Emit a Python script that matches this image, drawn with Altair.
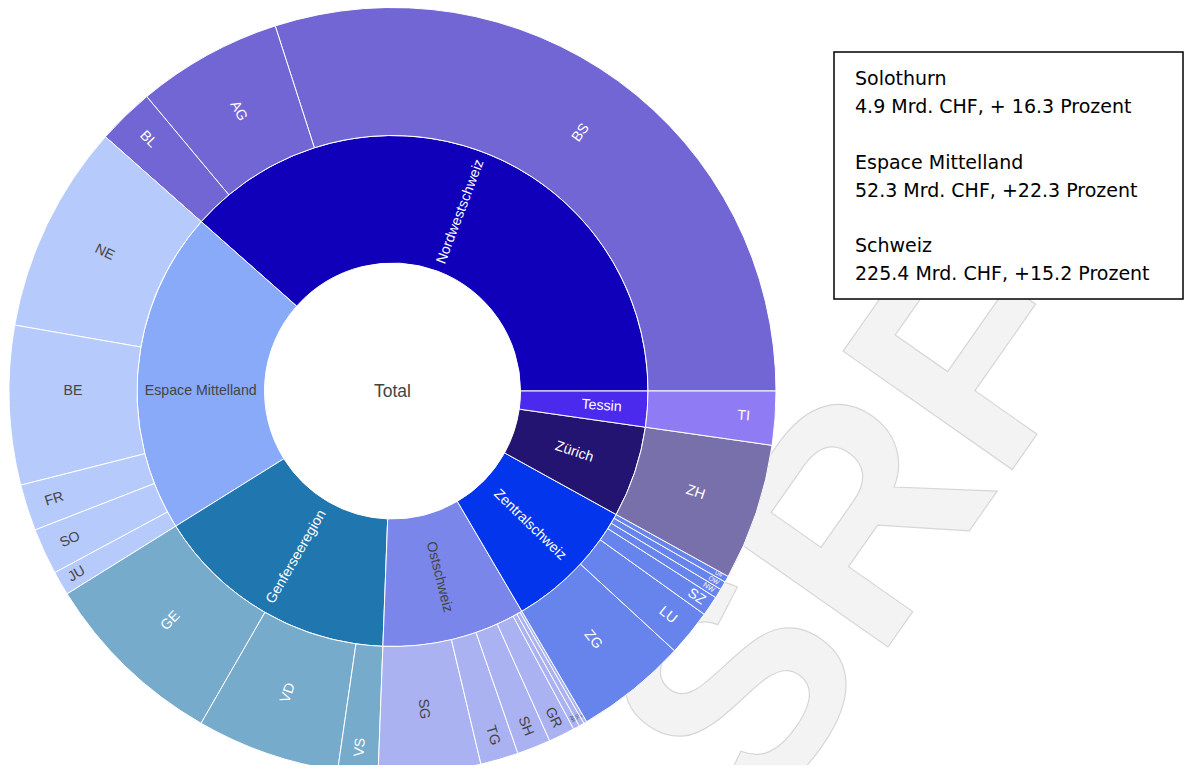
import math
import altair as alt
import pandas as pd

# ---------------- data ----------------
regions = ["Nordwestschweiz", "Espace Mittelland", "Genferseeregion", "Ostschweiz",
           "Zentralschweiz", "Zürich", "Tessin"]
cantons = ["BS", "AG", "BL",
           "NE", "BE", "FR", "SO", "JU",
           "GE", "VD", "VS",
           "SG", "TG", "SH", "GR", "AR", "GL", "AI",
           "ZG", "LU", "SZ", "NW", "OW", "UR",
           "ZH",
           "TI"]
canton_region = (["Nordwestschweiz"] * 3 + ["Espace Mittelland"] * 5 + ["Genferseeregion"] * 3
                 + ["Ostschweiz"] * 7 + ["Zentralschweiz"] * 6 + ["Zürich"] + ["Tessin"])
canton_values = [67.5, 13.8, 5.4,
                 19.8, 15.1, 4.4, 4.4, 2.3,
                 17.6, 13.6, 3.8,
                 9.7, 3.6, 3.2, 2.5, 0.6, 0.5, 0.3,
                 10.6, 4.4, 1.9, 0.9, 0.8, 0.6,
                 13.0,
                 5.1]
info_blocks = [["Solothurn", "4.9 Mrd. CHF, + 16.3 Prozent"],
               ["Espace Mittelland", "52.3 Mrd. CHF, +22.3 Prozent"],
               ["Schweiz", "225.4 Mrd. CHF, +15.2 Prozent"]]
watermark = "SRF"

# ---------------- styles ----------------
region_colors = ["#1000b9", "#89a9f9", "#2077b0", "#7a86e9", "#0336ec", "#221470", "#4b2aee"]
leaf_colors = ["#7265d4", "#b6cafc", "#77abcb", "#aab2f2", "#6684ec", "#7870ab", "#8f7bf4"]
dark_text = ["Espace Mittelland", "Ostschweiz", "NE", "BE", "FR", "SO", "JU",
             "SG", "TG", "SH", "GR", "AR", "GL", "AI"]
horizontal = ["Espace Mittelland", "BE"]

region_values = [sum(v for v, r in zip(canton_values, canton_region) if r == reg) for reg in regions]
total = float(sum(canton_values))

df_reg = pd.DataFrame({"name": regions, "value": region_values, "idx": range(len(regions))})
df_can = pd.DataFrame({"name": cantons, "value": canton_values, "idx": range(len(cantons)),
                       "region": canton_region})

color_domain = regions + cantons
color_range = region_colors + [leaf_colors[regions.index(r)] for r in canton_region]
color_scale = alt.Scale(domain=color_domain, range=color_range)

theta_scale = alt.Scale(domain=[0, total], range=[2.5 * math.pi, 0.5 * math.pi], nice=False, zero=True)

CX, CY = 384.5, 383
R0, R1, R2 = 128, 255.5, 383.5
FONT = "Liberation Sans"
MAXFS = 14.2


def ring(df, inner, outer):
    mid_r = (inner + outer) / 2
    rout = outer - 6
    base = alt.Chart(df).encode(
        theta=alt.Theta("value:Q", stack=True, scale=theta_scale),
        order=alt.Order("idx:Q", sort="ascending"),
        x=alt.value(CX), y=alt.value(CY),
    )
    arcs = base.mark_arc(innerRadius=inner, outerRadius=outer, stroke="white", strokeWidth=1).encode(
        color=alt.Color("name:N", scale=color_scale, legend=None)
    )
    hz = "[" + ",".join("'%s'" % h for h in horizontal) + "]"
    labels = alt.Chart(df).transform_joinaggregate(
        tot="sum(value)"
    ).transform_window(
        cum="sum(value)", sort=[alt.SortField("idx", order="ascending")], frame=[None, 0]
    ).transform_calculate(
        a0="450 - 360 * (datum.cum - datum.value) / datum.tot",
        a1="450 - 360 * datum.cum / datum.tot",
        hzl="indexof(%s, datum.name) >= 0" % hz,
    ).transform_calculate(
        midd="(datum.a0 + datum.a1) / 2",
        t="tan((datum.a0 - datum.a1) / 2 * PI / 180)",
        asp="length(datum.name) * 0.55",
        chord="(datum.a0 - datum.a1) * PI / 180 * %f" % mid_r,
    ).transform_calculate(
        H="2 * %f * datum.t / (1 + 2 * datum.asp * datum.t)" % rout,
        posd="datum.hzl && datum.a0 >= 270 && datum.a1 <= 270 ? 270 : datum.midd",
    ).transform_calculate(
        rc="datum.chord >= 60 ? %f : max(%f, %f - datum.asp * datum.H / 2)" % (mid_r, mid_r, rout),
        deg="datum.posd % 360",
        fs="min(%f, datum.H / 1.25)" % MAXFS,
    ).transform_calculate(
        rot="datum.hzl ? 0 : (datum.deg < 180 ? datum.deg - 90 : datum.deg - 270)",
        px="%f + datum.rc * sin(datum.posd * PI / 180)" % CX,
        py="%f - datum.rc * cos(datum.posd * PI / 180)" % CY,
    ).mark_text(font=FONT, align="center", baseline="middle").encode(
        x=alt.X("px:Q", scale=None),
        y=alt.Y("py:Q", scale=None),
        text="name:N",
        angle=alt.Angle("rot:Q", scale=None),
        size=alt.Size("fs:Q", scale=None),
        color=alt.condition(alt.FieldOneOfPredicate(field="name", oneOf=dark_text),
                            alt.value("#444444"), alt.value("#ffffff")),
    )
    return arcs, labels


reg_arcs, reg_labels = ring(df_reg, R0, R1)
can_arcs, can_labels = ring(df_can, R1, R2)

one = pd.DataFrame({"t": ["Total"]})
center = alt.Chart(one).mark_text(font=FONT, fontSize=17.5, color="#444444").encode(
    x=alt.value(CX), y=alt.value(CY + 1), text="t:N")

wm = alt.Chart(one).mark_text(text=watermark, font="Liberation Sans", fontWeight="bold", fontSize=300,
                              angle=305, align="center", baseline="middle",
                              fill="#f3f3f3", stroke="#d6d6d6", strokeWidth=1.2).encode(
    x=alt.value(852), y=alt.value(522))

box = alt.Chart(one).mark_rect(fill="white", stroke="black", strokeWidth=1.5).encode(
    x=alt.value(826), x2=alt.value(1175), y=alt.value(44), y2=alt.value(291))

LH = 27.9
info_layers = []
for i, block in enumerate(info_blocks):
    info_layers.append(
        alt.Chart(one).mark_text(text=block, align="left", baseline="alphabetic",
                                 font="DejaVu Sans", fontSize=19, lineHeight=LH, color="black").encode(
            x=alt.value(847), y=alt.value(77 + i * 3 * LH))
    )

chart = alt.layer(wm, reg_arcs, can_arcs, reg_labels, can_labels, center, box, *info_layers).properties(
    width=1176, height=757, padding=0, background="white",
    autosize=alt.AutoSizeParams(type="none")
).configure_view(strokeWidth=0, stroke=None)

chart.save("out.html", embed_options={"renderer": "svg", "actions": False})
